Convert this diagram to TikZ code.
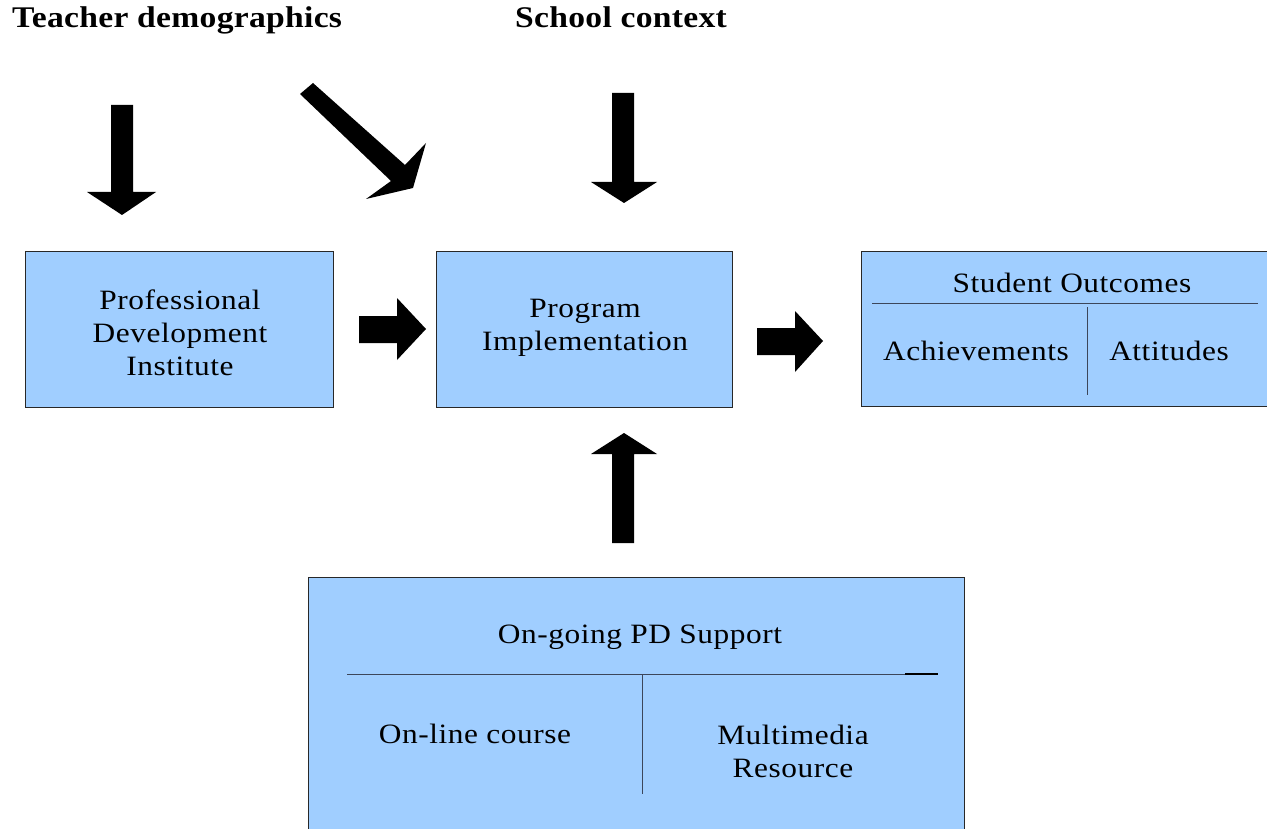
\documentclass[tikz,border=0pt]{standalone}
\usepackage{fontspec}
\setmainfont{Liberation Serif}[FakeStretch=1.12]
\usetikzlibrary{positioning}

\definecolor{boxblue}{RGB}{160,206,255}
\definecolor{boxline}{RGB}{40,40,40}
\definecolor{divline}{RGB}{60,70,90}
\newcommand\diagfont{\fontsize{28}{33}\selectfont\addfontfeature{LetterSpace=2}}
\newcommand\factorfont{\fontsize{30}{36}\selectfont\bfseries\addfontfeature{LetterSpace=1}}

\begin{document}
\begin{tikzpicture}[x=1pt, y=-1pt,
    box/.style={rectangle, draw=boxline, line width=0.8pt, fill=boxblue,
        inner sep=0pt, align=center, text centered, font=\diagfont},
    part/.style={inner sep=0pt, align=center, font=\diagfont},
    factor/.style={inner sep=0pt, anchor=base west, font=\factorfont},
    divider/.style={draw=divline, line width=0.9pt},
    blockarrow/.style={fill=black, draw=none}
]
\useasboundingbox (0,0) rectangle (1267,829);
\clip (0,0) rectangle (1267,829);

% outside factors
\node [factor] (teacher) at (12,28) {Teacher demographics};
\node [factor] (school) at (515,28) {School context};

% main boxes
\node [box, minimum width=308, minimum height=156] (pdi) at (179,329) {};
\node [box, minimum width=296, minimum height=156] (impl) at (584,329) {};
\node [box, minimum width=406, minimum height=155] (outcomes) at (1064,328.5) {};
\node [box, minimum width=656, minimum height=263] (support) at (636,708.5) {};
\node [part] (pdilabel) at (180,333) {Professional\\Development\\Institute};
\node [part] (impllabel) at (585,328) {Program\\Implementation};

% student outcomes
\node [part] (so) at (1072,283) {Student Outcomes};
\node [part] (ach) at (976,351) {Achievements};
\node [part] (att) at (1169,351) {Attitudes};
\draw [divider] (872,303) -- (1258,303);
\draw [divider] (1087,307) -- (1087,395);

% on-going support
\node [part] (pds) at (640,637) {On-going PD Support};
\node [part] (online) at (475,734) {On-line course};
\node [part] (media) at (793,751) {Multimedia\\Resource};
\draw [divider] (347,674) -- (938,674);
\draw [line width=1.6pt] (905,674) -- (938,674);
\draw [divider] (642,674) -- (642,794);

% block arrows
\fill [blockarrow] (111,105) -- (133,105) -- (133,192) -- (156,192)
    -- (122,215) -- (87,192) -- (111,192) -- cycle;
\fill [blockarrow] (300,94) -- (391,181) -- (366,199) -- (413,188)
    -- (426,143) -- (405,165) -- (313,83) -- cycle;
\fill [blockarrow] (612,93) -- (634,93) -- (634,182) -- (657,182)
    -- (624,203) -- (591,182) -- (612,182) -- cycle;
\fill [blockarrow] (359,316) -- (397,316) -- (397,298) -- (426,329)
    -- (397,360) -- (397,343) -- (359,343) -- cycle;
\fill [blockarrow] (757,328) -- (795,328) -- (795,311) -- (823,341)
    -- (795,372) -- (795,355) -- (757,355) -- cycle;
\fill [blockarrow] (612,543) -- (634,543) -- (634,454) -- (657,454)
    -- (624,433) -- (591,454) -- (612,454) -- cycle;

\end{tikzpicture}
\end{document}
